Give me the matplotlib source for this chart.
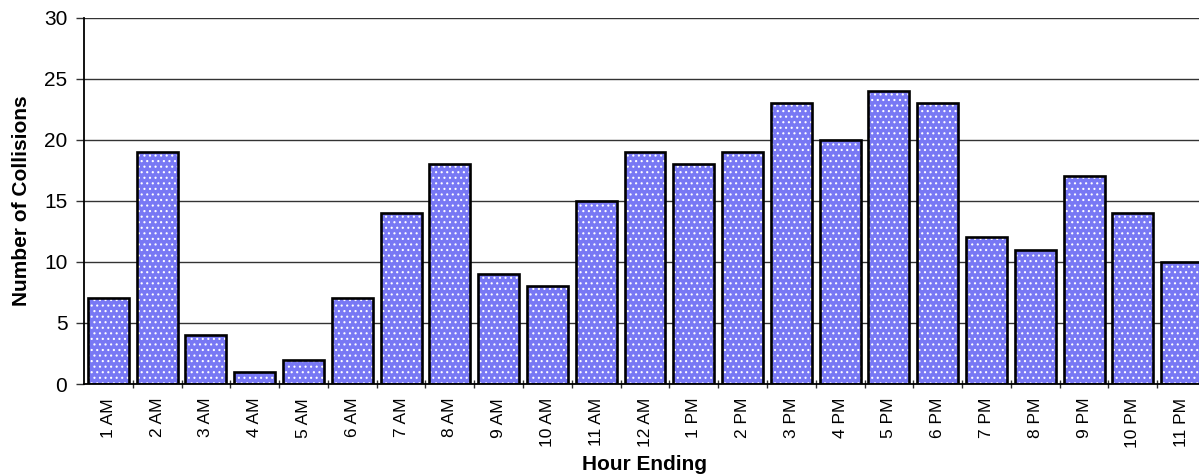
"""Hourly collision counts, recreated as a dotted bar chart."""
import numpy as np
import matplotlib
matplotlib.use("Agg")
import matplotlib.pyplot as plt

hours = ["1 AM", "2 AM", "3 AM", "4 AM", "5 AM", "6 AM", "7 AM", "8 AM",
         "9 AM", "10 AM", "11 AM", "12 AM", "1 PM", "2 PM", "3 PM", "4 PM",
         "5 PM", "6 PM", "7 PM", "8 PM", "9 PM", "10 PM", "11 PM"]
collisions = [7, 19, 4, 1, 2, 7, 14, 18, 9, 8, 15, 19,
              18, 19, 23, 20, 24, 23, 12, 11, 17, 14, 10]
y_ticks = [0, 5, 10, 15, 20, 25, 30]


def main():
    plt.rcParams['font.family'] = ['Liberation Sans', 'DejaVu Sans']
    plt.rcParams['hatch.linewidth'] = 0.8

    fig = plt.figure(figsize=(11.99, 4.76), dpi=100)
    # axes run a little past the right edge, as in the cropped original
    ax = fig.add_axes([84 / 1199, 92 / 476, 1122 / 1199, 366.5 / 476])

    x = np.arange(len(hours))
    # dotted fill (white dots on blue), then a separate black outline
    ax.bar(x, collisions, width=0.84, color='#7878f4', edgecolor='white',
           linewidth=0, hatch='...', zorder=2)
    ax.bar(x, collisions, width=0.84, fill=False, edgecolor='black',
           linewidth=1.9, zorder=3)

    ax.set_xlim(-0.5, len(hours) - 0.5)
    ax.set_ylim(0, 30)
    ax.set_yticks(y_ticks)
    ax.yaxis.grid(True, color='#333333', linewidth=1.0)
    ax.set_axisbelow(True)

    ax.set_xticks(x)
    ax.set_xticklabels(hours, rotation=90, fontsize=12.5)
    ax.set_xticks(x[:-1] + 0.5, minor=True)
    ax.tick_params(axis='x', which='major', length=0, pad=10)
    ax.tick_params(axis='x', which='minor', length=6, width=1,
                   direction='inout', color='#333333')
    ax.tick_params(axis='y', labelsize=15, length=6, width=1,
                   color='#333333', pad=6)

    for side in ('top', 'right'):
        ax.spines[side].set_visible(False)
    ax.spines['left'].set_linewidth(1.3)
    ax.spines['bottom'].set_linewidth(1.3)

    ax.set_ylabel('Number of Collisions', fontsize=15, fontweight='bold',
                  labelpad=9)
    ax.set_xlabel('Hour Ending', fontsize=15, fontweight='bold', labelpad=5)

    fig.savefig('out.png', dpi=100)


if __name__ == "__main__":
    main()
